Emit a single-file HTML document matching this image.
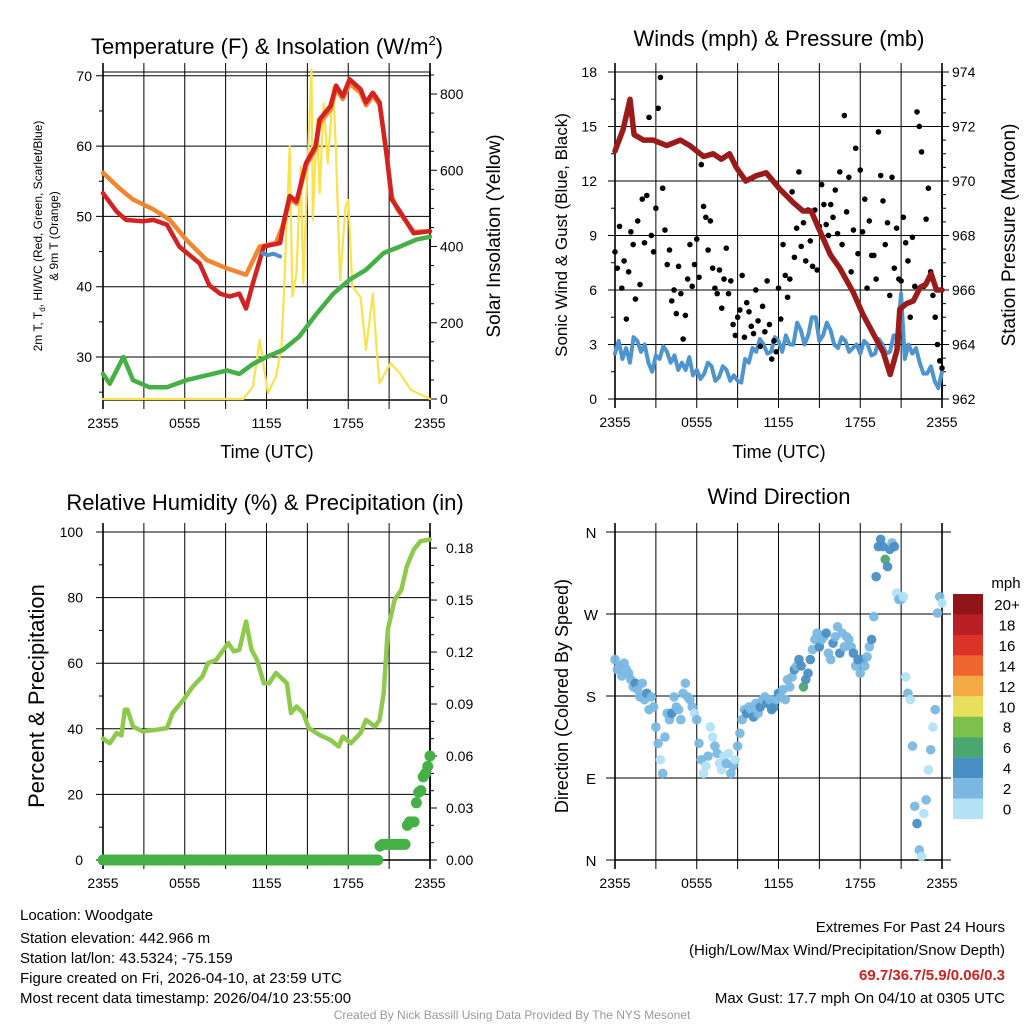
<!DOCTYPE html>
<html><head><meta charset="utf-8"><style>
body{margin:0;background:#fff}
svg{font-family:"Liberation Sans",sans-serif}
</style></head><body>
<svg id="s" width="1024" height="1024" viewBox="0 0 1024 1024">
<rect width="1024" height="1024" fill="#fff"/>
<g id="g"></g>
<g font-size="15" fill="#000">
<text x="20" y="920">Location: Woodgate</text>
<text x="20" y="943">Station elevation: 442.966 m</text>
<text x="20" y="963">Station lat/lon: 43.5324; -75.159</text>
<text x="20" y="983">Figure created on Fri, 2026-04-10, at 23:59 UTC</text>
<text x="20" y="1003">Most recent data timestamp: 2026/04/10 23:55:00</text>
</g>
<g font-size="15" text-anchor="end">
<text x="1005" y="932">Extremes For Past 24 Hours</text>
<text x="1005" y="955">(High/Low/Max Wind/Precipitation/Snow Depth)</text>
<text x="1005" y="980" fill="#d02020" font-weight="bold">69.7/36.7/5.9/0.06/0.3</text>
<text x="1005" y="1003">Max Gust: 17.7 mph On 04/10 at 0305 UTC</text>
</g>
<text x="512" y="1019" font-size="12" fill="#999" text-anchor="middle">Created By Nick Bassill Using Data Provided By The NYS Mesonet</text>
</svg>
<script>
// ---- data ----
const xTickLabels=["2355","0555","1155","1755","2355"];
const tempT=[0,1,1.7,2.9,3.7,4.7,5.6,7.1,7.8,8.6,9.3,10,10.5,11,11.8,13,13.3,13.7,14.2,14.9,15.6,15.9,16.7,17.1,17.6,18.1,18.9,19.3,19.8,20.3,20.8,21.2,21.8,22.8,24];
const tempV=[53.3,50.7,49.5,49.3,49.5,48.8,45.7,43.3,40.2,39,38.6,39,36.9,40.5,45.7,46.2,49.5,52.9,52.1,57.6,60,63.8,65.7,68.6,67.1,69.5,68.1,66.2,67.6,66.2,59,52.4,50.7,47.6,47.9];
const t9T=[0,1.2,2.2,3.7,4.9,6.1,7.6,9.1,10.5,11.5,12.7,13.3,13.7,14.2,14.9,15.6,15.9,16.7,17.1,17.6,18.1,18.9,19.3,19.8,20.3,20.8,21.2,21.6,22.8,24];
const t9V=[56.2,54,52.4,51,49.5,46.7,43.8,42.6,41.7,45.7,46.2,49.2,52.5,51.8,57.2,59.6,63.3,65.2,68.2,66.7,68.9,67.6,65.8,67.2,65.9,59,52.8,51,47.8,47.9];
const dewT=[0,0.5,1.5,2.2,3.4,4.7,6.1,7.6,9.1,10,11,12,13.2,14.4,15.7,16.9,18.1,19.3,20.6,21.8,23,24];
const dewV=[27.6,26.2,30,26.7,25.7,25.7,26.7,27.4,28.1,27.6,29,30,31,32.9,36.2,39,41,42.4,44.8,45.7,46.7,47.1];
const wcT=[11.7,12.1,12.5,13];
const wcV=[44.8,44.5,44.7,44.3];
const solT=[0,10.3,11,11.5,12.1,12.7,13.1,13.3,13.7,13.9,14.2,14.5,14.7,15.1,15.3,15.4,15.7,15.9,16.2,16.5,16.9,17.1,17.4,17.8,18,18.3,18.9,19.3,19.8,20.1,20.3,21.1,21.8,22.6,24];
const solV=[0,0,32,155,15,59,137,295,662,268,330,610,303,688,863,470,732,540,775,618,819,644,312,504,522,295,268,129,277,120,41,94,67,24,0];
const presT=[0,0.6,1.1,1.4,2.1,2.8,3.8,4.8,5.5,6.5,7.2,7.8,8.4,8.9,9.6,10.4,11.1,12.1,13.1,13.8,14.4,15,15.8,16.5,17.5,18.2,18.95,19.7,20.2,20.7,20.9,21.4,21.9,22.4,22.8,23.2,23.6,24];
const presV=[971.1,971.9,973,971.7,971.5,971.5,971.3,971.5,971.3,970.9,971,970.8,971,970.5,970,970.2,970.3,969.7,969.2,968.9,968.9,968.2,967.3,966.8,965.9,965.1,964.4,963.7,962.9,963.8,965.3,965.5,965.6,966.1,966.2,966.6,966,966];
const windV=[2.5,3.2,2.2,2.8,2.0,3.4,3.2,2.6,3.0,2.0,1.5,2.4,2.2,2.9,2.6,2.0,2.4,1.6,2.0,1.6,2.3,1.3,1.6,1.1,1.4,2.0,1.8,1.0,1.2,1.8,1.6,1.0,1.3,1.0,0.9,2.2,2.0,2.8,2.6,3.3,3.0,2.5,2.6,3.4,3.2,2.6,3.5,3.0,3.0,4.2,3.8,3.0,3.5,4.5,4.5,3.2,3.5,4.2,3.8,3.0,2.8,3.4,3.2,2.6,2.8,3.0,2.5,3.2,3.0,2.4,2.5,3.3,3.0,2.5,2.6,3.5,3.5,5.8,2.2,3.0,2.5,2.8,2.0,1.4,1.4,1.8,1.0,0.6,1.5];
const gustV=[8.1,7.2,9.5,6.1,7.6,4.4,7.0,9.2,8.5,5.5,9.8,6.3,11.0,8.6,11.2,15.5,9.0,8.1,10.5,16.0,17.7,11.6,9.3,7.4,8.2,5.4,6.0,4.7,7.3,5.8,3.3,4.6,6.6,8.5,6.2,7.4,8.8,6.7,12.9,10.6,10.0,8.2,9.8,7.2,6.1,5.8,7.1,5.0,6.6,8.3,5.8,6.5,4.1,3.5,4.5,4.9,6.8,3.4,5.3,4.8,4.0,3.6,6.0,4.3,2.9,5.1,3.7,6.5,4.1,2.2,3.2,2.6,6.1,4.4,8.5,6.8,5.6,6.6,11.4,7.8,9.4,12.5,8.4,9.7,7.6,10.4,8.7,7.3,10.4,7.1,9.5,11.8,10.7,9.6,9.0,10.7,10.0,11.5,9.1,12.5,8.5,15.6,10.3,12.2,7.0,9.3,13.8,8.0,12.6,9.2,11.0,6.1,9.8,7.9,7.9,6.6,14.7,12.3,10.9,8.5,9.7,5.7,12.2,7.2,9.4,6.6,6.5,10.0,8.6,7.6,4.5,8.9,6.2,15.8,15.0,13.6,6.2,9.9,11.6,7.0,5.7,4.5,3.0,2.1,1.7];
const rhT=[0,0.5,1,1.35,1.6,1.8,2.2,2.9,3.9,4.7,5.1,5.9,6.6,7.3,7.7,8.3,9.2,9.6,10,10.5,10.9,11.3,11.8,12.2,12.7,13.5,13.8,14.2,14.7,15.1,15.9,16.7,17.3,17.6,18.2,18.9,19.3,19.96,20.3,20.6,20.9,21.4,21.9,22.3,22.8,23.3,24];
const rhV=[37,35.6,38.7,38,45.8,45.8,40.7,39.2,39.7,40.2,44.8,48.8,52.9,56,60,61,66.1,63.6,64.1,72.7,64.1,61,53.9,53.9,57,53.9,44.8,46.8,44.8,40.2,38.1,36.6,34.6,37.6,35.6,38.7,42.7,40.7,42.7,50.9,70.2,79.3,82.4,89.5,94.6,97.2,97.7];
const precipV=[0,0,0,0,0,0,0,0,0,0,0,0,0,0,0,0,0,0,0,0,0,0,0,0,0,0,0,0,0,0,0,0,0,0,0,0,0,0,0,0,0,0,0,0,0,0,0,0,0,0,0,0,0,0,0,0,0,0,0,0,0,0,0,0,0,0,0,0,0,0,0,0,0,0,0,0,0,0,0,0,0,0,0,0,0,0,0,0,0,0,0,0,0,0,0,0,0,0,0,0,0,0,0,0,0,0,0,0,0,0,0,0,0,0,0,0,0,0,0,0,0,0,0.008,0.009,0.009,0.009,0.009,0.009,0.009,0.009,0.009,0.009,0.009,0.009,0.02,0.022,0.022,0.022,0.033,0.039,0.04,0.048,0.05,0.054,0.06];
const dirV=[220,209,213,202,216,209,205,198,190,194,187,179,194,176,183,165,179,168,146,128,110,95,135,161,154,161,179,168,165,154,183,194,179,176,168,161,154,128,110,95,103,114,146,135,125,117,106,99,114,106,117,95,103,110,125,139,154,165,161,168,165,157,172,161,168,176,179,172,176,165,168,176,183,179,187,176,198,190,201,209,213,220,213,190,198,205,220,231,242,249,234,242,245,249,227,220,238,245,256,227,249,234,245,242,234,227,213,220,205,220,213,223,234,242,267,311,344,352,344,330,322,341,348,344,293,286,286,289,201,183,176,125,59,40,11,4,51,66,99,121,146,165,271,289,282];
const spdClass=[1,1,1,1,1,1,1,1,1,2,1,1,1,1,2,1,1,1,1,1,0,1,1,1,1,2,1,1,1,1,1,1,1,1,1,0,1,1,1,0,0,1,0,0,1,1,0,0,0,1,0,1,1,0,1,1,1,1,2,1,1,2,1,1,2,1,1,2,1,2,2,1,2,1,1,1,1,1,1,2,1,2,2,3,2,2,2,1,1,1,2,1,1,2,1,1,2,1,1,2,1,1,1,1,1,2,1,2,1,2,1,1,1,2,1,2,2,2,2,3,2,2,1,2,0,1,1,0,0,1,0,1,1,2,1,0,0,1,0,1,0,1,1,1,0];
const cbLabels=["20+","18","16","14","12","10","8","6","4","2","0"];
const cbColors=["#8f1519","#bb1d24","#dc3328","#ef6530","#f5a945","#e6e05a","#7bc14c","#4aa86e","#4a8fc4","#7ab8e2","#b3e2f7"];
// ---- drawing ----
const NS="http://www.w3.org/2000/svg",G=document.getElementById('g');
function el(tag,at,parent){const e=document.createElementNS(NS,tag);for(const k in at)e.setAttribute(k,at[k]);(parent||G).appendChild(e);return e;}
function txt(x,y,s,sz,anc,rot,parent){const e=el('text',{x:x,y:y,'font-size':sz,'text-anchor':anc||'middle'},parent);if(rot)e.setAttribute('transform','rotate(-90 '+x+' '+y+')');e.textContent=s;return e;}
function panel(name,x0,x1,y0,y1){const g=el('g',{});
 const xs=t=>x0+t/24*(x1-x0);
 for(let i=0;i<=8;i++){const x=xs(i*3);el('line',{x1:x,x2:x,y1:y0-9,y2:y1+9,stroke:'#000','stroke-width':(i==0||i==8)?1.6:1},g);}
 el('line',{x1:x0,x2:x1,y1:y0,y2:y0,stroke:'#000','stroke-width':1},g);
 el('line',{x1:x0,x2:x1,y1:y1,y2:y1,stroke:'#000','stroke-width':1.6},g);
 xTickLabels.forEach((s,i)=>{const t=txt(xs(i*6),y1+28,s,14,'middle',0,g);});
 return {g,xs};}
function path(g,T,V,xs,ys,col,w,name){let d='';T.forEach((t,i)=>{d+=(i?'L':'M')+xs(t).toFixed(1)+','+ys(V[i]).toFixed(1);});const p=el('path',{d:d,fill:'none',stroke:col,'stroke-width':w,'stroke-linejoin':'round','stroke-linecap':'round'},g);return p;}
// Panel 1
(function(){const x0=103,x1=430,y0=72,y1=400;const P=panel('temperature-panel',x0,x1,y0,y1),g=P.g,xs=P.xs;
 const yl=v=>357-(v-30)*7.03,yr=w=>399-w*0.3812;
 [30,40,50,60,70].forEach(v=>{el('line',{x1:x0-7,x2:x1,y1:yl(v),y2:yl(v),stroke:'#000'},g);txt(x0-11,yl(v)+5,String(v),14,'end',0,g);});
 [25,35,45,55,65].forEach(v=>el('line',{x1:x0-4,x2:x0,y1:yl(v),y2:yl(v),stroke:'#000'},g));
 for(let w=0;w<=850;w+=50){el('line',{x1:x1,x2:x1+(w%200?4:7),y1:yr(w),y2:yr(w),stroke:'#000'},g);}
 [0,200,400,600,800].forEach(w=>txt(x1+10,yr(w)+5,String(w),14,'start',0,g));
 el('line',{x1:x1,x2:x1,y1:y0,y2:y1,stroke:'#000','stroke-width':1.6},g);
 path(g,solT,solV,xs,yr,'#fbe24c',2.2,'solar-line');
 path(g,dewT,dewV,xs,yl,'#45b045',4.5,'dewpoint-line');
 path(g,t9T,t9V,xs,yl,'#f28630',4.5,'temp-9m-line');
 path(g,tempT,tempV,xs,yl,'#d42222',4.5,'temp-2m-line');
 path(g,wcT,wcV,xs,yl,'#4a90cf',4,'windchill-line');
 const t=txt(267,54,'',22,'middle',0,g);t.innerHTML='Temperature (F) &amp; Insolation (W/m<tspan font-size="13" dy="-9">2</tspan><tspan dy="9">)</tspan>';
 txt(267,458,'Time (UTC)',18,'middle',0,g);
 const a=txt(42,236,'',12,'middle',1,g);a.innerHTML='2m T, T<tspan font-size="8" dy="3">d</tspan><tspan dy="-3">, HI/WC (Red, Green, Scarlet/Blue)</tspan>';
 txt(58,236,'& 9m T (Orange)',12,'middle',1,g);
 txt(500,236,'Solar Insolation (Yellow)',19,'middle',1,g);
})();
// Panel 2
(function(){const x0=615,x1=942,y0=72,y1=399;const P=panel('wind-panel',x0,x1,y0,y1),g=P.g,xs=P.xs;
 const yl=v=>399-v*18.17,yr=p=>399-(p-962)*27.25;
 [0,3,6,9,12,15,18].forEach(v=>{el('line',{x1:x0-7,x2:x1+7,y1:yl(v),y2:yl(v),stroke:'#000'},g);txt(x0-18,yl(v)+5,String(v),14,'end',0,g);});
 for(let v=1.5;v<18;v+=3)el('line',{x1:x0-4,x2:x0,y1:yl(v),y2:yl(v),stroke:'#000'},g);
 for(let p=962;p<=974;p+=0.5)el('line',{x1:x1,x2:x1+4,y1:yr(p),y2:yr(p),stroke:'#000'},g);
 [962,964,966,968,970,972,974].forEach(p=>txt(x1+10,yr(p)+5,String(p),14,'start',0,g));
 el('line',{x1:x1,x2:x1,y1:y0,y2:y1,stroke:'#000','stroke-width':1.6},g);
 const wT=windV.map((v,i)=>i*24/(windV.length-1));
 path(g,wT,windV,xs,yl,'#4e95d0',4,'sonic-wind-line');
 gustV.forEach((v,i)=>{const c=el('circle',{cx:xs(i/6),cy:yl(v),r:2.8,fill:'#000'},g);});
 path(g,presT,presV,xs,yr,'#9b1b1b',5.5,'pressure-line');
 txt(779,46,'Winds (mph) & Pressure (mb)',22,'middle',0,g);
 txt(779,458,'Time (UTC)',18,'middle',0,g);
 txt(567,235,'Sonic Wind & Gust (Blue, Black)',17,'middle',1,g);
 txt(1015,235,'Station Pressure (Maroon)',19,'middle',1,g);
})();
// Panel 3
(function(){const x0=103,x1=430,y0=532,y1=860;const P=panel('humidity-panel',x0,x1,y0,y1),g=P.g,xs=P.xs;
 const yl=v=>860-v*3.28,yr=p=>860-p*1733;
 [0,20,40,60,80,100].forEach(v=>{el('line',{x1:x0-7,x2:x1,y1:yl(v),y2:yl(v),stroke:'#000'},g);txt(x0-20,yl(v)+5,String(v),14,'end',0,g);});
 [10,30,50,70,90].forEach(v=>el('line',{x1:x0-4,x2:x0,y1:yl(v),y2:yl(v),stroke:'#000'},g));
 for(let k=0;k<=18;k++){const p=k*0.01;el('line',{x1:x1,x2:x1+(k%3?4:7),y1:yr(p),y2:yr(p),stroke:'#000'},g);}
 ['0.00','0.03','0.06','0.09','0.12','0.15','0.18'].forEach((s,i)=>txt(x1+16,yr(i*0.03)+5,s,14,'start',0,g));
 el('line',{x1:x1,x2:x1,y1:y0,y2:y1,stroke:'#000','stroke-width':1.6},g);
 path(g,rhT,rhV,xs,yl,'#8dca4b',4.5,'rh-line');
 precipV.forEach((p,i)=>{const c=el('circle',{cx:xs(i/6),cy:yr(p),r:5.5,fill:'#45b045'},g);});
 txt(265,510,'Relative Humidity (%) & Precipitation (in)',22,'middle',0,g);
 txt(44,696,'Percent & Precipitation',22,'middle',1,g);
})();
// Panel 4
(function(){const x0=615,x1=942,y0=532,y1=860;const P=panel('direction-panel',x0,x1,y0,y1),g=P.g,xs=P.xs;
 const yd=d=>860-d/360*328;
 ['N','E','S','W','N'].forEach((s,i)=>{el('line',{x1:x0-9,x2:x1+9,y1:yd(i*90),y2:yd(i*90),stroke:'#000'},g);txt(x0-24,yd(i*90)+6,s,15,'middle',0,g);});
 dirV.forEach((d,i)=>{const c=el('circle',{cx:xs(i/6),cy:yd(d),r:4.8,fill:cbColors[10-spdClass[i]],'fill-opacity':0.95},g);});
 txt(779,504,'Wind Direction',22,'middle',0,g);
 txt(568,696,'Direction (Colored By Speed)',18,'middle',1,g);
 const cb=el('g',{},g);
 cbColors.forEach((c,i)=>{el('rect',{x:953,y:594+i*20.45,width:30,height:20.6,fill:c},cb);txt(1007,594+i*20.45+16,cbLabels[i],15,'middle',0,cb);});
 txt(1006,588,'mph',15,'middle',0,cb);
})();
</script>
</body></html>
